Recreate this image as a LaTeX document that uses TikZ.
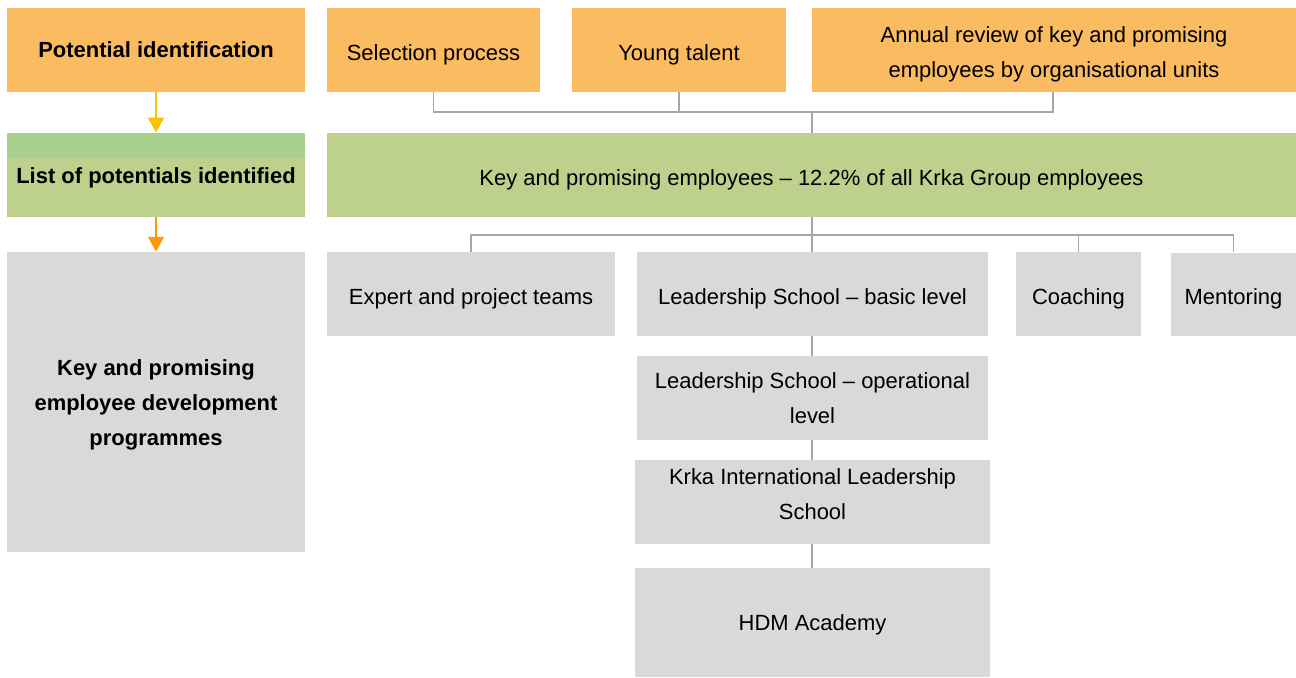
\documentclass[tikz,border=0pt]{standalone}
\usepackage{fontspec}
\setmainfont{Liberation Sans}
\usetikzlibrary{arrows.meta}
\definecolor{orangebox}{HTML}{FBBB60}
\definecolor{greenbox}{HTML}{BDD08C}
\definecolor{greenstrip}{HTML}{A9D18E}
\definecolor{graybox}{HTML}{D9D9D9}
\definecolor{linegray}{HTML}{A6A6A6}
\definecolor{arrowyellow}{HTML}{FFC000}
\definecolor{arroworange}{HTML}{FF9900}
\begin{document}
\begin{tikzpicture}[x=0.02cm, y=-0.02cm,
      every node/.style={font=\fontsize{12.5}{20}\selectfont},
      box/.style={inner sep=2pt, minimum height=1.68cm, align=center},
      obox/.style={box, fill=orangebox},
      gbox/.style={box, fill=greenbox},
      grbox/.style={box, fill=graybox},
      head/.style={font=\fontsize{12.5}{20}\selectfont\bfseries},
      lowtext/.style={execute at begin node={\rule{0pt}{#1}}},
      lowtext/.default=14.5pt,
      conn/.style={draw=linegray, line width=1.1pt},
      flow/.style={line width=1.1pt, -{Triangle[width=9pt,length=8.5pt]}}]
    \useasboundingbox (0,0) rectangle (1296,677);
    % left column
    \node[obox, head, minimum width=5.96cm] (pot) at (156,50) {Potential identification};
    \node[gbox, head, lowtext=12.5pt, minimum width=5.96cm,
          path picture={\fill[greenstrip] (path picture bounding box.north west)
            rectangle ([yshift=-0.5cm]path picture bounding box.north east);}]
          (list) at (156,175) {List of potentials identified};
    \node[grbox, head, minimum width=5.96cm, minimum height=6cm] (prog) at (156,402)
          {\rule{0pt}{12.5pt}Key and promising\\employee development\\programmes};
    % sources
    \node[obox, lowtext, minimum width=4.26cm] (sel)    at (433.5,50) {Selection process};
    \node[obox, lowtext, minimum width=4.28cm] (young)  at (679,50)   {Young talent};
    \node[obox, minimum width=9.68cm] (annual) at (1054,50)
          {\rule{0pt}{14pt}Annual review of key and promising\\employees by organisational units};
    \node[gbox, lowtext, minimum width=19.38cm] (keyemp) at (811.5,175) {Key and promising employees -- 12.2\% of all Krka Group employees};
    % programmes
    \node[grbox, lowtext, minimum width=5.76cm] (expert) at (471,294)    {Expert and project teams};
    \node[grbox, lowtext, minimum width=7.02cm] (basic)  at (812.5,294)  {Leadership School -- basic level};
    \node[grbox, lowtext, minimum width=2.5cm]  (coach)  at (1078.5,294) {Coaching};
    \node[grbox, lowtext, minimum width=2.5cm]  (mentor) at (1233.5,294.5) {Mentoring};
    \node[grbox, minimum width=7.02cm] (oper)   at (812.5,398)  {Leadership School -- operational\\level};
    \node[grbox, minimum width=7.1cm]  (intl)   at (812.5,502)  {Krka International Leadership\\School\rule[-9pt]{0pt}{0pt}};
    \node[grbox, lowtext=11.5pt, minimum width=7.1cm, minimum height=2.18cm] (hdm) at (812.5,622.5) {HDM Academy};
    % arrows
    \draw[flow, arrowyellow] (pot) -- (list);
    \draw[flow, arroworange] (list) -- (prog);
    % tree lines
    \coordinate (top) at (812,112);
    \coordinate (mid) at (812,235);
    \draw[conn] (sel.south) |- (top);
    \draw[conn] (young.south) |- (top);
    \draw[conn] (annual.south -| 1053,0) |- (top);
    \draw[conn] (top) -- (keyemp.north -| top);
    \draw[conn] (keyemp.south -| mid) -- (mid);
    \draw[conn] (mid) -| (expert.north);
    \draw[conn] (mid) -- (basic.north -| mid);
    \draw[conn] (mid) -| (coach.north);
    \draw[conn] (mid) -| (mentor.north);
    \draw[conn] (basic.south -| mid) -- (oper.north -| mid);
    \draw[conn] (oper.south -| mid) -- (intl.north -| mid);
    \draw[conn] (intl.south -| mid) -- (hdm.north -| mid);
  \end{tikzpicture}
\end{document}
